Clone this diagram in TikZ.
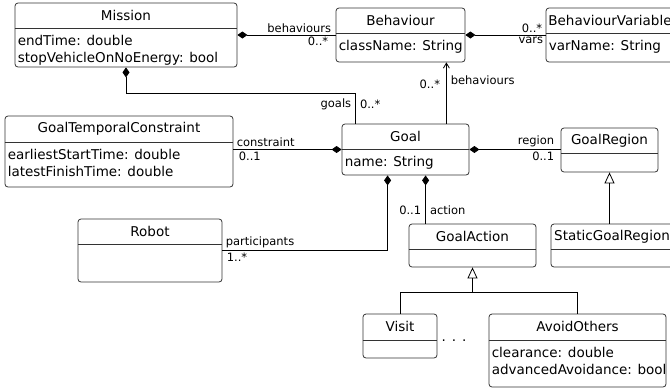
\documentclass[tikz,border=0pt]{standalone}
\usepackage{fontspec}
\setmainfont{DejaVu Sans}
\usetikzlibrary{arrows.meta,calc,fit}

\tikzset{
  classbox/.style={draw=black!80, rounded corners=3pt, inner sep=0pt, line width=0.8pt},
  comp/.style={{Diamond[length=10pt,width=7pt]}-, line width=0.8pt},
  gen/.style={-{Triangle[open,length=11pt,width=10pt]}, line width=0.8pt},
  nav/.style={-{Straight Barb[length=5pt,width=6pt]}, line width=0.8pt},
  lbl/.style={font=\fontsize{11.5}{13}\selectfont, inner sep=2pt},
}
% name, corners, header line y, title, attributes
\newcommand{\umlclass}[5]{%
  \node[classbox, fit={#2}] (#1) {};
  \draw[black!80, line width=0.8pt] (#1.west |- 0,#3) -- (#1.east |- 0,#3);
  \node (#1-name) at ($(#1.north)!0.5!(#1.north |- 0,#3)$) {#4};
  \node[anchor=north west, align=left, inner xsep=3pt, inner ysep=7.5pt] (#1-attr) at (#1.west |- 0,#3) {#5};
}

\begin{document}
\begin{tikzpicture}[x=1pt, y=-1pt, font=\fontsize{13.5}{17}\selectfont]
	\useasboundingbox (0,0) rectangle (670,389);
	\clip (0,0) rectangle (670,389);
	
	%%%%% CLASSES %%%%%
	\umlclass{mission}{(15,3) (237,67)}{28}{Mission}{endTime: double\\stopVehicleOnNoEnergy: bool}
	\umlclass{behaviour}{(336,8) (465,62)}{33}{Behaviour}{className: String}
	\umlclass{bvar}{(546,8) (674,62)}{33}{BehaviourVariable}{varName: String}
	\umlclass{gtc}{(5,116) (233,187)}{142}{GoalTemporalConstraint}{earliestStartTime: double\\latestFinishTime: double}
	\umlclass{goal}{(342,124) (469,175)}{149}{Goal}{name: String}
	\umlclass{region}{(561,128) (658,172)}{153}{GoalRegion}{}
	\umlclass{robot}{(78,219) (222,282)}{244}{Robot}{}
	\umlclass{gaction}{(409,224) (536,267)}{249}{GoalAction}{}
	\umlclass{sregion}{(551,224) (673,267)}{249}{StaticGoalRegion}{}
	\umlclass{visit}{(363,314) (437,358)}{340}{Visit}{}
	\umlclass{avoid}{(489,314) (666,387)}{340}{AvoidOthers}{clearance: double\\advancedAvoidance: bool}
	
	%%%%% ASSOCIATIONS %%%%%
	\draw[comp] (mission.east) -- (behaviour.west)
		node[lbl, pos=1, anchor=south east, xshift=-2pt] (mb-role) {behaviours}
		node[lbl, pos=1, anchor=north east, xshift=-5pt] (mb-mult) {0..*};
	\draw[comp] (behaviour.east) -- (bvar.west)
		node[lbl, pos=1, anchor=south east, xshift=-1pt] (bv-mult) {0..*}
		node[lbl, pos=1, anchor=north east] (bv-role) {vars};
	\draw[comp] (mission.south) -- ++(0,26) -| ([xshift=14pt]goal.north west)
		node[lbl, pos=0.68, anchor=east, xshift=-2pt] (mg-role) {goals}
		node[lbl, pos=0.68, anchor=west, xshift=2pt] (mg-mult) {0..*};
	
	\coordinate (navstart) at ([xshift=-23pt]goal.north east);
	\draw[nav] (navstart) -- (navstart |- behaviour.south)
		node[lbl, pos=0.65, anchor=east, xshift=-4pt] (gb-mult) {0..*}
		node[lbl, pos=0.71, anchor=west, xshift=2pt] (gb-role) {behaviours};
	
	\draw[comp] (goal.west) -- (goal.west -| gtc.east)
		node[lbl, pos=1, anchor=south west, xshift=1pt] (gc-role) {constraint}
		node[lbl, pos=1, anchor=north west, xshift=3pt] (gc-mult) {0..1};
	\draw[comp] (goal.east) -- (goal.east -| region.west)
		node[lbl, pos=1, anchor=south east, xshift=-4pt] (gr-role) {region}
		node[lbl, pos=1, anchor=north east, xshift=-4pt] (gr-mult) {0..1};
	
	\coordinate (actstart) at ([xshift=84pt]goal.south west);
	\draw[comp] (actstart) -- (actstart |- gaction.north)
		node[lbl, pos=0.73, anchor=east, xshift=-2pt] (ga-mult) {0..1}
		node[lbl, pos=0.73, anchor=west, xshift=2pt] (ga-role) {action};
	
	\coordinate (partstart) at ([xshift=46pt]goal.south west);
	\draw[comp] (partstart) |- (robot.east)
		node[lbl, pos=1, anchor=south west, xshift=1pt] (rp-role) {participants}
		node[lbl, pos=1, anchor=north west, xshift=2pt] (rp-mult) {1..*};
	
	%%%%% GENERALISATIONS %%%%%
	\draw[gen] (sregion.north -| region.south) -- (region.south);
	\coordinate (split) at ($(gaction.south)+(0,25)$);
	\draw[line width=0.8pt] (visit.north) |- (split) -| (avoid.north);
	\draw[gen] (split) -- (gaction.south);
	
	\node[anchor=base] (etc) at (454,341) {.\hspace{6pt}.\hspace{6pt}.};
\end{tikzpicture}
\end{document}
